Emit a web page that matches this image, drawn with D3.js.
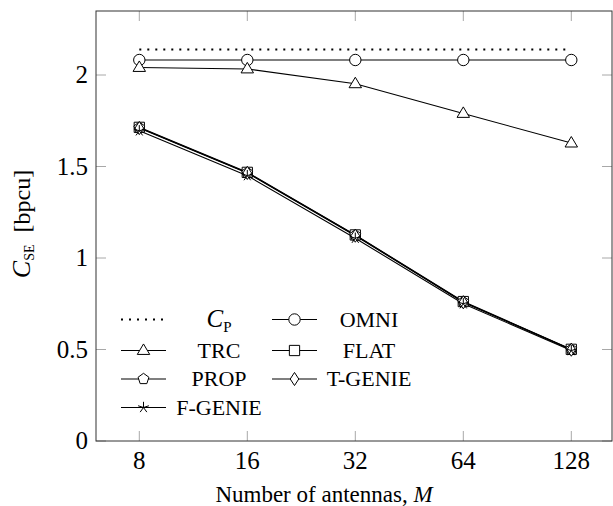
<!DOCTYPE html>
<html><head><meta charset="utf-8">
<script src="https://cdn.jsdelivr.net/npm/d3@7/dist/d3.min.js"></script>
<style>body{margin:0;background:#fff}svg{display:block}</style>
</head><body>
<script>
const antennas = [8, 16, 32, 64, 128];
const xTicks = [8, 16, 32, 64, 128];
const yTicks = [0, 0.5, 1, 1.5, 2];
const cp = [2.14, 2.14, 2.14, 2.14, 2.14];
const omni = [2.082, 2.082, 2.082, 2.082, 2.082];
const trc = [2.041, 2.033, 1.952, 1.79, 1.628];
const flat = [1.714, 1.468, 1.126, 0.762, 0.501];
const prop = [1.712, 1.466, 1.124, 0.760, 0.500];
const tgenie = [1.710, 1.465, 1.122, 0.758, 0.499];
const fgenie = [1.695, 1.450, 1.108, 0.750, 0.494];

const series = [
  {name: "CP", values: cp, mark: null, dash: "2,6"},
  {name: "OMNI", values: omni, mark: "circle"},
  {name: "TRC", values: trc, mark: "triangle"},
  {name: "FLAT", values: flat, mark: "square"},
  {name: "PROP", values: prop, mark: "pentagon"},
  {name: "T-GENIE", values: tgenie, mark: "diamond"},
  {name: "F-GENIE", values: fgenie, mark: "star"}
];

const W = 613, H = 506;
const L = 96, R = 612, T = 11, B = 441;
const svg = d3.select("body").append("svg").attr("width", W).attr("height", H);

const x = d3.scaleLog().base(2).domain([8, 128]).range([139.3, 571.3]);
const y = d3.scaleLinear().domain([0, 2]).range([441, 75]);

const tickColor = "#a8a8a8";
const g = svg.append("g");
xTicks.forEach(t => {
  g.append("line").attr("x1", x(t)).attr("x2", x(t)).attr("y1", B).attr("y2", B - 10).attr("stroke", tickColor).attr("stroke-width", 1);
  g.append("line").attr("x1", x(t)).attr("x2", x(t)).attr("y1", T).attr("y2", T + 10).attr("stroke", tickColor).attr("stroke-width", 1);
  g.append("text").attr("x", x(t)).attr("y", 469).attr("text-anchor", "middle")
    .attr("font-family", "Liberation Serif").attr("font-size", 25).text(t);
});
yTicks.forEach(t => {
  g.append("line").attr("x1", L).attr("x2", L + 10).attr("y1", y(t)).attr("y2", y(t)).attr("stroke", tickColor).attr("stroke-width", 1);
  g.append("line").attr("x1", R).attr("x2", R - 10).attr("y1", y(t)).attr("y2", y(t)).attr("stroke", tickColor).attr("stroke-width", 1);
  g.append("text").attr("x", 88).attr("y", y(t) + 8).attr("text-anchor", "end")
    .attr("font-family", "Liberation Serif").attr("font-size", 25).text(t);
});

const line = d3.line().x((d, i) => x(antennas[i])).y(d => y(d));
svg.append("defs").append("clipPath").attr("id", "c").append("rect")
  .attr("x", L).attr("y", T).attr("width", R - L).attr("height", B - T);
const plot = svg.append("g").attr("clip-path", "url(#c)");

function markPath(type, r) {
  switch (type) {
    case "circle": return d3.symbol(d3.symbolCircle, Math.PI * r * r)();
    case "square": { const s = r * 0.9; return `M${-s},${-s}H${s}V${s}H${-s}Z`; }
    case "triangle": { const a = r * 1.15; return `M0,${-a}L${a * 0.95},${a * 0.6}L${-a * 0.95},${a * 0.6}Z`; }
    case "diamond": { const a = r * 1.15, b = r * 0.75; return `M0,${-a}L${b},0L0,${a}L${-b},0Z`; }
    case "pentagon": {
      let p = "";
      for (let k = 0; k < 5; k++) { const ang = -Math.PI / 2 + k * 2 * Math.PI / 5; p += (k ? "L" : "M") + (r * Math.cos(ang)) + "," + (r * Math.sin(ang)); }
      return p + "Z";
    }
    case "star": {
      let p = "";
      for (let k = 0; k < 5; k++) { const ang = -Math.PI / 2 + k * 2 * Math.PI / 5; p += `M0,0L${r * Math.cos(ang)},${r * Math.sin(ang)}`; }
      return p;
    }
  }
}
function drawMark(sel, type, cx, cy, r) {
  sel.append("path").attr("d", markPath(type, r)).attr("transform", `translate(${cx},${cy})`)
    .attr("fill", type === "star" ? "none" : "#fff").attr("stroke", "#000").attr("stroke-width", 1);
}

series.forEach(s => {
  plot.append("path").attr("d", line(s.values)).attr("fill", "none").attr("stroke", "#000")
    .attr("stroke-width", s.dash ? 2 : 1.1).attr("stroke-dasharray", s.dash || null);
});
series.forEach(s => {
  if (!s.mark) return;
  s.values.forEach((v, i) => drawMark(plot, s.mark, x(antennas[i]), y(v), 5.7));
});

svg.append("rect").attr("x", L).attr("y", T).attr("width", R - L).attr("height", B - T)
  .attr("fill", "none").attr("stroke", "#333").attr("stroke-width", 1);

// legend (two columns, row-major)
const rowY = [319.5, 350.5, 379, 407.5];
const colLine = [[121, 166], [272, 317]];
const colText = [219, 369];
series.forEach((s, idx) => {
  const col = idx % 2, row = Math.floor(idx / 2);
  const ly = rowY[row];
  const [x1, x2] = colLine[col];
  const lg = svg.append("g");
  lg.append("line").attr("x1", x1).attr("x2", x2).attr("y1", ly).attr("y2", ly).attr("stroke", "#000")
    .attr("stroke-width", s.dash ? 2 : 1.1).attr("stroke-dasharray", s.dash || null);
  if (s.mark) drawMark(lg, s.mark, (x1 + x2) / 2, ly, 5.7);
  const t = lg.append("text").attr("x", colText[col]).attr("y", ly + 7).attr("text-anchor", "middle")
    .attr("font-family", "Liberation Serif").attr("font-size", 22);
  if (s.name === "CP") {
    t.append("tspan").attr("font-style", "italic").attr("font-size", 25).text("C");
    t.append("tspan").attr("font-size", 15).attr("dy", 5).text("P");
  } else t.text(s.name);
});

svg.append("text").attr("x", (L + R) / 2 - 30).attr("y", 502).attr("text-anchor", "middle")
  .attr("font-family", "Liberation Serif").attr("font-size", 23)
  .call(t => { t.append("tspan").text("Number of antennas, "); t.append("tspan").attr("font-style", "italic").text("M"); });

const yl = svg.append("text").attr("transform", `translate(30,224) rotate(-90)`).attr("text-anchor", "middle")
  .attr("font-family", "Liberation Serif").attr("font-size", 24);
yl.append("tspan").attr("font-style", "italic").attr("font-size", 26).text("C");
yl.append("tspan").attr("font-size", 14).attr("dy", 4).text("SE");
yl.append("tspan").attr("dy", -4).text("\u2002[bpcu]");
</script>
</body></html>
